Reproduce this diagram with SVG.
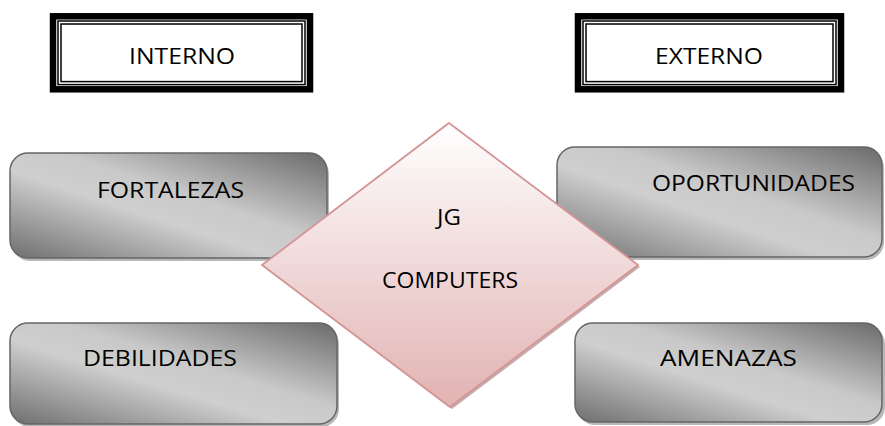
<svg xmlns="http://www.w3.org/2000/svg" width="885" height="426" viewBox="0 0 885 426">
<defs>
  <linearGradient id="gray" x1="0" y1="1" x2="1" y2="0">
    <stop offset="0" stop-color="#6e6e6e"/>
    <stop offset="0.42" stop-color="#cfcfcf"/>
    <stop offset="0.58" stop-color="#c9c9c9"/>
    <stop offset="1" stop-color="#6a6a6a"/>
  </linearGradient>
  <linearGradient id="pink" x1="0" y1="0" x2="0" y2="1">
    <stop offset="0" stop-color="#ffffff"/>
    <stop offset="1" stop-color="#e2b2b2"/>
  </linearGradient>
</defs>
<style>
  .t{font-family:"Open Sans","Liberation Sans",sans-serif;font-size:22.5px;fill:#000;}
  .outer{fill:#fff;stroke:#000;stroke-width:6.5;}
  .thin{fill:none;stroke:#000;stroke-width:1.5;}
  .box{fill:url(#gray);stroke:#666;stroke-width:1.5;}
  .shadow{fill:#b8b8b8;}
  .dia{fill:url(#pink);stroke:#d39595;stroke-width:1.8;}
  .dshadow{fill:#b08a8a;opacity:0.7;}
</style>
<g id="interno">
  <rect class="outer" x="53" y="16.3" width="257" height="73"/>
  <rect class="thin" x="58" y="21" width="247" height="63.6"/>
  <rect class="thin" x="61" y="24" width="241" height="57.6"/>
  <text class="t" x="129" y="63.5" textLength="106" lengthAdjust="spacingAndGlyphs">INTERNO</text>
</g>
<g id="externo">
  <rect class="outer" x="578" y="16.3" width="263" height="73"/>
  <rect class="thin" x="583" y="21" width="253" height="63.6"/>
  <rect class="thin" x="586" y="24" width="247" height="57.6"/>
  <text class="t" x="655" y="63.5" textLength="108" lengthAdjust="spacingAndGlyphs">EXTERNO</text>
</g>
<g id="fortalezas">
  <rect class="shadow" x="12" y="156" width="317" height="105" rx="18"/>
  <rect class="box" x="10" y="153" width="317" height="105" rx="18"/>
  <text class="t" x="97" y="198" textLength="147" lengthAdjust="spacingAndGlyphs">FORTALEZAS</text>
</g>
<g id="oportunidades">
  <rect class="shadow" x="559" y="150" width="325" height="110" rx="18"/>
  <rect class="box" x="557" y="147" width="325" height="110" rx="18"/>
  <text class="t" x="652" y="190.5" textLength="203" lengthAdjust="spacingAndGlyphs">OPORTUNIDADES</text>
</g>
<g id="debilidades">
  <rect class="shadow" x="12" y="326" width="327" height="101" rx="18"/>
  <rect class="box" x="10" y="323" width="327" height="101" rx="18"/>
  <text class="t" x="83" y="365.5" textLength="154" lengthAdjust="spacingAndGlyphs">DEBILIDADES</text>
</g>
<g id="amenazas">
  <rect class="shadow" x="577" y="326" width="308" height="99" rx="18"/>
  <rect class="box" x="575" y="323" width="307" height="99" rx="18"/>
  <text class="t" x="660" y="365.5" textLength="137" lengthAdjust="spacingAndGlyphs">AMENAZAS</text>
</g>
<g id="jg-computers">
  <polygon class="dshadow" points="451,125 640,267 452,409 264,267"/>
  <polygon class="dia" points="449,123 638,265 450,407 262,265"/>
  <text class="t" x="437" y="225" textLength="24" lengthAdjust="spacingAndGlyphs">JG</text>
  <text class="t" x="382" y="288" textLength="136" lengthAdjust="spacingAndGlyphs">COMPUTERS</text>
</g>
<g id="connectors"></g>
</svg>
